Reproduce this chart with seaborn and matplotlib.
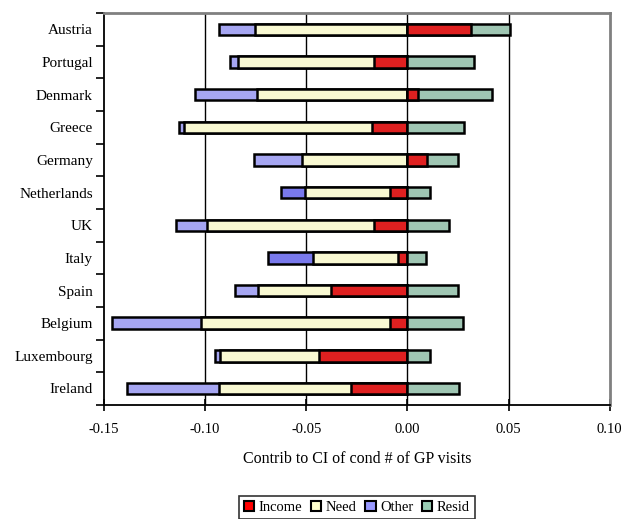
import matplotlib
matplotlib.use("Agg")
import matplotlib.pyplot as plt
from matplotlib.patches import Patch
import numpy as np
import pandas as pd
import seaborn as sns

countries = ["Austria", "Portugal", "Denmark", "Greece", "Germany", "Netherlands",
             "UK", "Italy", "Spain", "Belgium", "Luxembourg", "Ireland"]
income = [0.0315, -0.0163, 0.0051, -0.0176, 0.0097, -0.0085,
          -0.0163, -0.0048, -0.0380, -0.0084, -0.0438, -0.0278]
need = [-0.0751, -0.0675, -0.0745, -0.0929, -0.0520, -0.0420,
        -0.0829, -0.0420, -0.0356, -0.0935, -0.0487, -0.0654]
other = [-0.0178, -0.0041, -0.0303, -0.0025, -0.0236, -0.0119,
         -0.0151, -0.0222, -0.0115, -0.0440, -0.0028, -0.0453]
resid = [0.0194, 0.0328, 0.0366, 0.0282, 0.0151, 0.0114,
         0.0208, 0.0092, 0.0250, 0.0277, 0.0114, 0.0253]
xticks = [-0.15, -0.10, -0.05, 0.00, 0.05, 0.10]

c_income = "#FF0000"
c_need = "#FFFFCC"
c_other = "#9999FF"
c_other_dark = "#6666FF"
c_resid = "#99CCB3"

df = pd.DataFrame({"country": countries, "income": income, "need": need,
                   "other": other, "resid": resid})
# Stack ends: negatives grow leftward (Income, Need, Other), positives rightward (Income, Resid)
df["neg1"] = df["income"].clip(upper=0)
df["neg2"] = df["neg1"] + df["need"]
df["neg3"] = df["neg2"] + df["other"]
df["pos1"] = df["income"].clip(lower=0)
df["pos2"] = df["pos1"] + df["resid"]

other_palette = {c: c_other for c in countries}
other_palette["Netherlands"] = c_other_dark
other_palette["Italy"] = c_other_dark

plt.rcParams["font.family"] = ["Liberation Serif", "DejaVu Serif"]

fig = plt.figure(figsize=(6.26, 5.19), dpi=100)
ax = fig.add_axes([0.166, 0.22, 0.808, 0.755])

for xv in [-0.10, -0.05, 0.0, 0.05]:
    ax.axvline(xv, color="black", lw=1.0, zorder=0)

bar_kw = dict(y="country", order=countries, orient="h", width=0.35,
              edgecolor="black", linewidth=1.8, errorbar=None, ax=ax, zorder=2)

# Far segments first, nearer segments drawn over them
sns.barplot(data=df, x="neg3", hue="country", palette=other_palette, legend=False, **bar_kw)
sns.barplot(data=df, x="neg2", color=c_need, **bar_kw)
sns.barplot(data=df[df["income"] < 0], x="neg1", color=c_income, **bar_kw)
sns.barplot(data=df, x="pos2", color=c_resid, **bar_kw)
sns.barplot(data=df[df["income"] > 0], x="pos1", color=c_income, **bar_kw)

ax.set_xlim(-0.15, 0.10)
ax.set_ylim(len(countries) - 0.5, -0.5)
ax.set_xticks(xticks)
ax.set_xticklabels([f"{t:.2f}" for t in xticks])
ax.set_xlabel("Contrib to CI of cond # of GP visits", fontsize=11.5, labelpad=11)
ax.set_ylabel("")

ax.set_yticks(range(len(countries)))
ax.set_yticklabels(countries)
ax.set_yticks(np.arange(-0.5, len(countries)), minor=True)
ax.tick_params(axis="y", which="major", length=0, pad=8, labelsize=11)
ax.tick_params(axis="y", which="minor", length=6, width=1.2, direction="out", color="black")
ax.tick_params(axis="x", which="major", length=8, width=1.2, direction="inout",
               labelsize=10.5, pad=9)

for side in ["left", "bottom"]:
    ax.spines[side].set_color("black")
    ax.spines[side].set_linewidth(1.3)
for side in ["top", "right"]:
    ax.spines[side].set_color("#808080")
    ax.spines[side].set_linewidth(2.0)

handles = [Patch(facecolor=c, edgecolor="black", linewidth=1.5, label=l)
           for c, l in [(c_income, "Income"), (c_need, "Need"),
                        (c_other, "Other"), (c_resid, "Resid")]]
leg = fig.legend(handles=handles, loc="upper center", bbox_to_anchor=(0.57, 0.045),
                 ncol=4, frameon=True, fancybox=False, fontsize=10.5,
                 handlelength=0.7, handleheight=0.7, handletextpad=0.3,
                 columnspacing=0.6, borderpad=0.35, borderaxespad=0)
leg.get_frame().set_edgecolor("black")
leg.get_frame().set_linewidth(1.2)

fig.savefig("out.png", dpi=100)
